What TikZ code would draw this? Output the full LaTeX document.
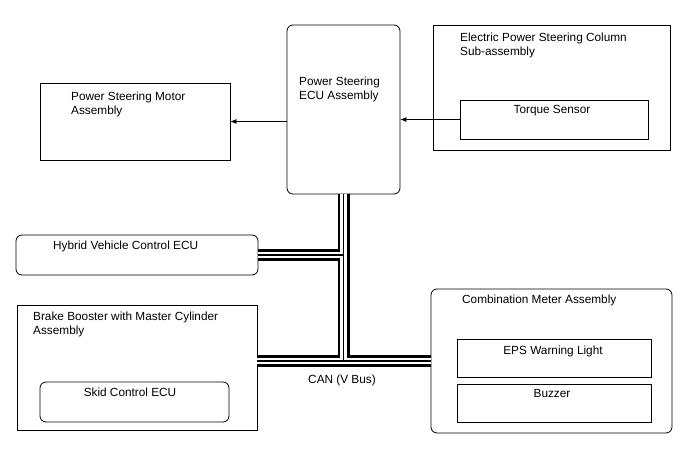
\documentclass[tikz,border=0pt]{standalone}
\usepackage{fontspec}
\setmainfont{Liberation Sans}
\usepackage{tikz}
\usetikzlibrary{arrows.meta, positioning}

\tikzset{
  unit/.style={draw, line width=0.8pt, inner sep=0pt},
  ecubox/.style={unit, rounded corners=6pt},
  lbl/.style={inner sep=0pt, align=left, anchor=base west},
  clbl/.style={inner sep=0pt, anchor=base},
  sig/.style={line width=0.7pt, -{Latex[length=6pt, width=5pt]}}
}

\begin{document}
\begin{tikzpicture}[x=1pt, y=-1pt, font=\fontsize{11.8}{13.6}\selectfont]
  \useasboundingbox (0,0) rectangle (688,463);
  % steering side
  \node[ecubox, minimum width=113pt, minimum height=169pt] (ecu) at (343.5,109.5) {};
  \node[unit, minimum width=190pt, minimum height=77pt] (motor) at (135,121.5) {};
  \node[unit, line width=1pt, minimum width=237pt, minimum height=125pt] (column) at (551.5,87.5) {};
  \node[unit, minimum width=188pt, minimum height=39pt] (torque) at (554,119.5) {};
  \node[lbl] (ecutxt) at (299,99.5) {Power Steering\\ECU Assembly};
  \node[lbl] (motortxt) at (71,114.5) {Power Steering Motor\\Assembly};
  \node[lbl] (columntxt) at (460,55) {Electric Power Steering Column\\Sub-assembly};
  \node[clbl] (torquetxt) at (552,113) {Torque Sensor};
  % CAN side
  \node[ecubox, minimum width=242pt, minimum height=40pt] (hybrid) at (137,255) {};
  \node[unit, minimum width=240pt, minimum height=125pt] (brake) at (137,367.5) {};
  \node[ecubox, minimum width=189pt, minimum height=40pt] (skid) at (134.5,402) {};
  \node[ecubox, minimum width=241pt, minimum height=144pt] (meter) at (551.5,361) {};
  \node[unit, minimum width=194pt, minimum height=38pt] (warn) at (554,358) {};
  \node[unit, minimum width=194pt, minimum height=38pt] (buzzer) at (554,403) {};
  \node[lbl] (hybridtxt) at (53,249) {Hybrid Vehicle Control ECU};
  \node[lbl] (braketxt) at (33,334.5) {Brake Booster with Master Cylinder\\Assembly};
  \node[clbl] (skidtxt) at (130,396) {Skid Control ECU};
  \node[lbl] (metertxt) at (462,303) {Combination Meter Assembly};
  \node[clbl] (warntxt) at (553,354) {EPS Warning Light};
  \node[clbl] (buzzertxt) at (552,397) {Buzzer};
  \node[clbl] (can) at (342,383) {CAN (V Bus)};

  % signal lines
  \draw[sig] (ecu.west |- motor.east) -- (motor.east);
  \draw[sig] (torque.west) -- (torque.west -| ecu.east);

  % CAN bus
  \foreach \w/\c in {12/black, 6.5/white, 1.4/black}
    \draw[line width=\w pt, \c]
      (ecu.south) -- (ecu.south |- meter.west)
      (hybrid.east) -- (hybrid.east -| ecu.south)
      (brake.east |- meter.west) -- (meter.west);
\end{tikzpicture}
\end{document}
